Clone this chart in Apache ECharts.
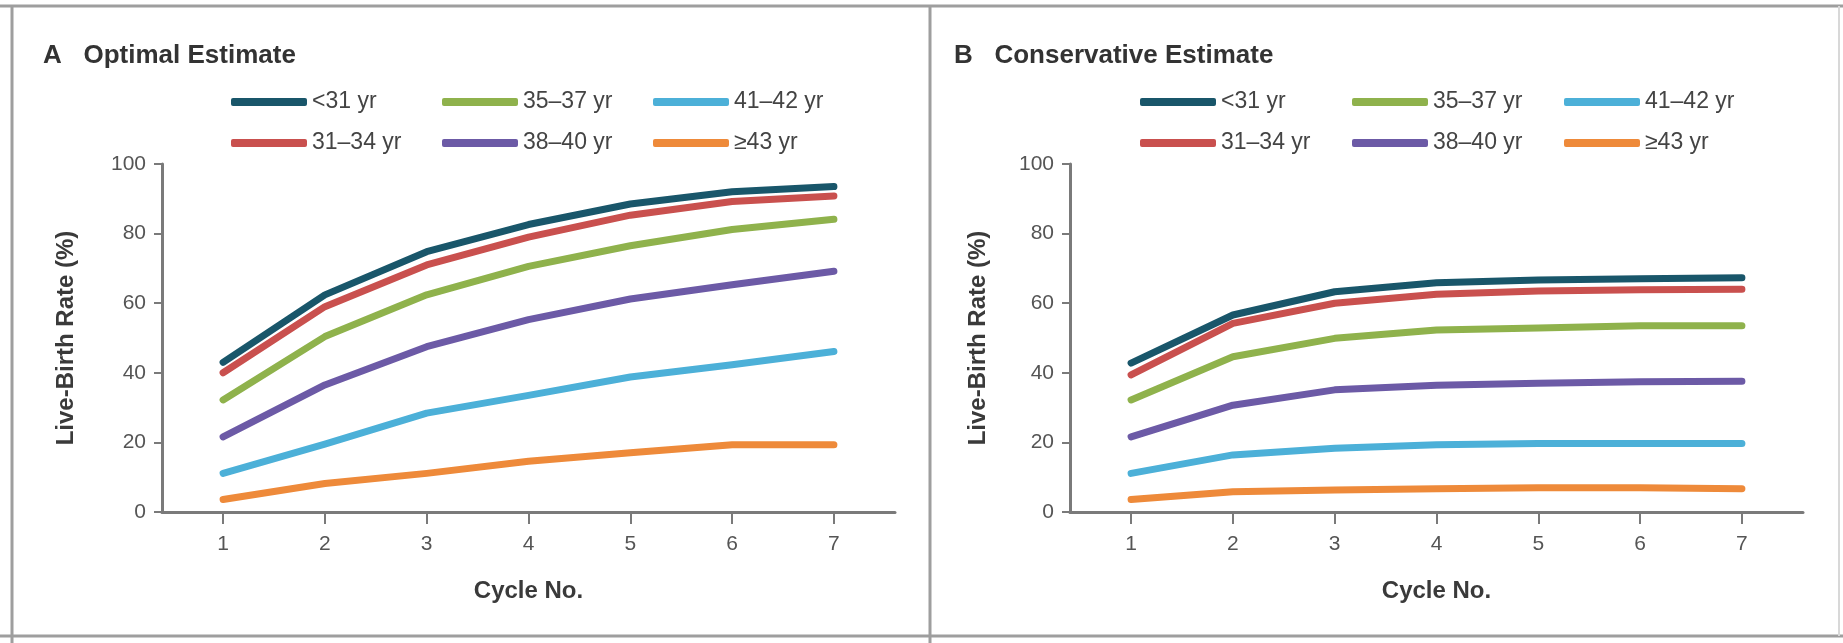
<!DOCTYPE html>
<html>
<head>
<meta charset="utf-8">
<title>Live-birth rate by cycle</title>
<script src="https://cdn.jsdelivr.net/npm/echarts@6/dist/echarts.min.js"></script>
<style>
  html, body { margin: 0; padding: 0; background: #fff; }
  #main { width: 1843px; height: 643px; }
</style>
</head>
<body>
<div id="main"></div>
<script>
// data
var cycles = [1, 2, 3, 4, 5, 6, 7];
var yTicks = [0, 20, 40, 60, 80, 100];
var ageGroups = ['<31 yr', '31–34 yr', '35–37 yr', '38–40 yr', '41–42 yr', '≥43 yr'];
var colors = ['#19566a', '#c9504e', '#8fb24c', '#6c5aa6', '#4cb0d8', '#ee8a3a'];

// panel A, optimal estimate
var optLt31 = [43, 62.4, 74.8, 82.6, 88.5, 92, 93.5];
var opt31_34 = [40, 59, 71, 79, 85.3, 89.2, 90.8];
var opt35_37 = [32.2, 50.4, 62.4, 70.6, 76.5, 81.2, 84.1];
var opt38_40 = [21.6, 36.5, 47.5, 55.3, 61.2, 65.3, 69.2];
var opt41_42 = [11.1, 19.5, 28.4, 33.5, 38.8, 42.3, 46.1];
var optGe43 = [3.6, 8.2, 11.1, 14.6, 17, 19.3, 19.3];

// panel B, conservative estimate
var conLt31 = [42.8, 56.6, 63.3, 65.9, 66.7, 67, 67.3];
var con31_34 = [39.4, 54.2, 60, 62.6, 63.5, 63.9, 64];
var con35_37 = [32.2, 44.6, 49.9, 52.3, 52.9, 53.5, 53.5];
var con38_40 = [21.6, 30.7, 35.1, 36.4, 37, 37.4, 37.6];
var con41_42 = [11.1, 16.4, 18.3, 19.3, 19.7, 19.7, 19.7];
var conGe43 = [3.6, 5.8, 6.3, 6.7, 7, 7, 6.7];

var optSets = [optLt31, opt31_34, opt35_37, opt38_40, opt41_42, optGe43];
var conSets = [conLt31, con31_34, con35_37, con38_40, con41_42, conGe43];

var txtFont = 'Liberation Sans';
var axisGray = '#7a7a7a';

function pairs(vals) {
    return cycles.map(function (c, i) { return [c, vals[i]]; });
}

function makeX(idx) {
    return {
        gridIndex: idx,
        type: 'value',
        min: 0.4,
        max: 7.6,
        name: 'Cycle No.',
        nameLocation: 'middle',
        nameGap: 67,
        nameTextStyle: { fontFamily: txtFont, fontWeight: 'bold', fontSize: 24, color: '#3a3a3a' },
        axisLine: { show: true, onZero: false, lineStyle: { color: axisGray, width: 3 } },
        axisTick: { show: true, length: 12, customValues: cycles, lineStyle: { color: axisGray, width: 2 } },
        axisLabel: { customValues: cycles, margin: 22, fontFamily: txtFont, fontSize: 21, color: '#555' },
        splitLine: { show: false }
    };
}

function makeY(idx, gap) {
    return {
        gridIndex: idx,
        type: 'value',
        min: 0,
        max: 100,
        interval: 20,
        name: 'Live-Birth Rate (%)',
        nameLocation: 'middle',
        nameGap: gap,
        nameTextStyle: { fontFamily: txtFont, fontWeight: 'bold', fontSize: 24, color: '#3a3a3a' },
        axisLine: { show: true, lineStyle: { color: axisGray, width: 3 } },
        axisTick: { show: true, length: 8, lineStyle: { color: axisGray, width: 2 } },
        axisLabel: { margin: 16, fontFamily: txtFont, fontSize: 21, color: '#555' },
        splitLine: { show: false }
    };
}

function makeLegends(lefts) {
    // three columns, two rows each
    return [0, 1, 2].map(function (col) {
        return {
            orient: 'vertical',
            left: lefts[col],
            top: 85,
            itemWidth: 76,
            itemHeight: 8,
            itemGap: 17,
            itemTextGap: 6,
            icon: 'roundRect',
            selectedMode: false,
            data: [ageGroups[col * 2], ageGroups[col * 2 + 1]],
            textStyle: { fontFamily: txtFont, fontSize: 23, color: '#444', lineHeight: 24 }
        };
    });
}

var series = [];
[optSets, conSets].forEach(function (sets, g) {
    for (var i = sets.length - 1; i >= 0; i--) {
        series.push({
            name: ageGroups[i],
            type: 'line',
            xAxisIndex: g,
            yAxisIndex: g,
            data: pairs(sets[i]),
            symbol: 'none',
            color: colors[i],
            lineStyle: { width: 7, color: colors[i], cap: 'round', join: 'round' },
            z: 2 + (sets.length - i)
        });
    }
});

var myChart = echarts.init(document.getElementById('main'));
var option = {
    animation: false,
    backgroundColor: '#fff',
    title: [
        { text: 'A   Optimal Estimate', left: 38, top: 38,
          textStyle: { fontFamily: txtFont, fontWeight: 'bold', fontSize: 26, color: '#333' } },
        { text: 'B   Conservative Estimate', left: 949, top: 38,
          textStyle: { fontFamily: txtFont, fontWeight: 'bold', fontSize: 26, color: '#333' } }
    ],
    legend: makeLegends([226, 437, 648]).concat(makeLegends([1135, 1347, 1559])),
    grid: [
        { left: 162, top: 164, width: 733, height: 348 },
        { left: 1070, top: 164, width: 733, height: 348 }
    ],
    xAxis: [makeX(0), makeX(1)],
    yAxis: [makeY(0, 84), makeY(1, 80)],
    series: series,
    graphic: [
        { type: 'line', shape: { x1: 0, y1: 6, x2: 1843, y2: 6 }, style: { stroke: '#9e9e9e', lineWidth: 3 } },
        { type: 'line', shape: { x1: 0, y1: 636, x2: 1843, y2: 636 }, style: { stroke: '#9e9e9e', lineWidth: 3 } },
        { type: 'line', shape: { x1: 12, y1: 6, x2: 12, y2: 643 }, style: { stroke: '#9e9e9e', lineWidth: 3 } },
        { type: 'line', shape: { x1: 930, y1: 6, x2: 930, y2: 643 }, style: { stroke: '#9e9e9e', lineWidth: 3 } },
        { type: 'line', shape: { x1: 1839, y1: 6, x2: 1839, y2: 636 }, style: { stroke: '#d8d8d8', lineWidth: 2 } }
    ]
};
myChart.setOption(option);
</script>
</body>
</html>
